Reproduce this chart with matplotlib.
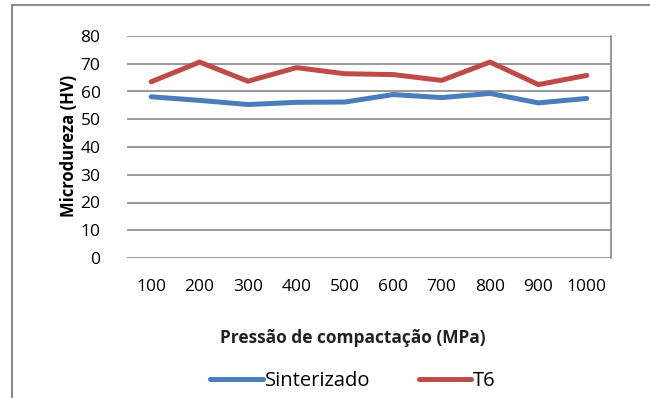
import matplotlib
matplotlib.use("Agg")
import matplotlib.pyplot as plt
from matplotlib.patches import Rectangle

categories = ["100", "200", "300", "400", "500", "600", "700", "800", "900", "1000"]
sinterizado = [58.1, 56.8, 55.3, 56.1, 56.2, 58.9, 57.8, 59.3, 55.9, 57.5]
t6 = [63.5, 70.6, 63.7, 68.6, 66.4, 66.1, 64.0, 70.6, 62.5, 65.8]
yticks = [0, 10, 20, 30, 40, 50, 60, 70, 80]

plt.rcParams['font.family'] = ['Open Sans', 'DejaVu Sans']

W, H = 650, 398
fig = plt.figure(figsize=(6.5, 3.98), dpi=100)
ax = fig.add_axes([127 / W, 1 - 258 / H, (611 - 127) / W, (258 - 36) / H])

x = list(range(len(categories)))
l1, = ax.plot(x, sinterizado, color="#4A7EBB", lw=3.6, solid_capstyle="round", label="Sinterizado")
l2, = ax.plot(x, t6, color="#BE4B48", lw=3.6, solid_capstyle="round", label="T6")

ax.set_xlim(-0.5, len(categories) - 0.5)
ax.set_ylim(0, 80)
ax.set_yticks(yticks)
ax.set_xticks(x)
ax.set_xticklabels(categories)
ax.tick_params(axis="both", length=0, labelsize=12.5, colors="black")
ax.tick_params(axis="y", pad=19)
ax.tick_params(axis="x", pad=15)
ax.grid(axis="y", color="#888888", lw=1.2)
ax.set_axisbelow(True)
for s in ["left", "top", "bottom"]:
    ax.spines[s].set_visible(False)
ax.spines["right"].set_color("#888888")
ax.spines["right"].set_linewidth(1.2)

fig.text(69 / W, 1 - 146 / H, "Microdureza (HV)", rotation=90, ha="center", va="center",
         fontsize=12, fontweight="bold")
fig.text(353 / W, 1 - 338 / H, "Pressão de compactação (MPa)", ha="center", va="center",
         fontsize=12.5, fontweight="bold", color="#222222")

leg = fig.legend(handles=[l1, l2], loc="center", bbox_to_anchor=(353 / W, 1 - 381 / H),
                 ncol=2, frameon=False, fontsize=14.5, handlelength=2.6, handletextpad=0.1,
                 columnspacing=2.4, borderpad=0.2)

fig.patches.append(Rectangle((12 / W, -0.05), 1.0, (1 - 5 / H) + 0.05, transform=fig.transFigure,
                             fill=False, edgecolor="#8c8c8c", lw=1.5))

fig.savefig("out.png", dpi=100)
